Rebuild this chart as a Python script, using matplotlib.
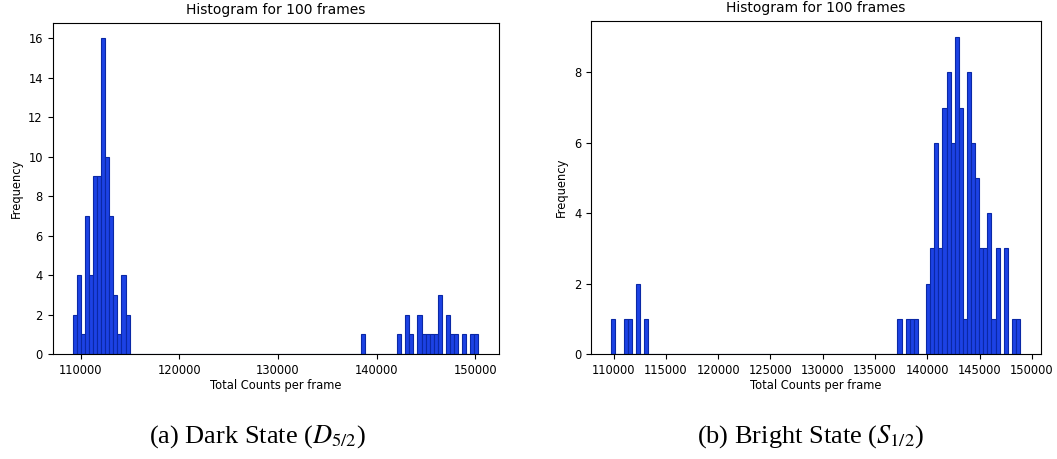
import numpy as np
import matplotlib.pyplot as plt

plt.rcParams["mathtext.fontset"] = "stix"

N_BINS = 100

# dark state (D5/2): histogram of total counts, 100 bins between min and max
dark_range = (109190, 150300)
dark_bin_idx = [0, 1, 2, 3, 4, 5, 6, 7, 8, 9, 10, 11, 12, 13,
                71, 80, 82, 83, 85, 86, 87, 88, 89, 90, 92, 93, 94, 96, 98, 99]
dark_counts = [2, 4, 1, 7, 4, 9, 9, 16, 10, 7, 3, 1, 4, 2,
               1, 1, 2, 1, 2, 1, 1, 1, 1, 3, 2, 1, 1, 1, 1, 1]

# bright state (S1/2)
bright_range = (109790, 148865)
bright_bin_idx = [0, 3, 4, 6, 8,
                  70, 72, 73, 74, 77, 78, 79, 80, 81, 82, 83, 84, 85, 86,
                  87, 88, 89, 90, 91, 92, 93, 94, 96, 98, 99]
bright_counts = [1, 1, 1, 2, 1,
                 1, 1, 1, 1, 2, 3, 6, 3, 7, 8, 6, 9, 7, 1,
                 8, 6, 5, 3, 3, 4, 1, 3, 3, 1, 1]

dark_ticks = [110000, 120000, 130000, 140000, 150000]
bright_ticks = [110000, 115000, 120000, 125000, 130000, 135000, 140000, 145000, 150000]

captions = [r"(a) Dark State ($D_{5/2}$)", r"(b) Bright State ($S_{1/2}$)"]

FACE = "#1c42e4"
EDGE = "#0a28a6"

fig = plt.figure(figsize=(10.57, 4.59), dpi=100)
ax1 = fig.add_axes([0.0497, 0.2288, 0.4220, 0.7218])
ax2 = fig.add_axes([0.5591, 0.2288, 0.4253, 0.7245])


def draw(ax, rng, idx, counts, ticks):
    edges = np.linspace(rng[0], rng[1], N_BINS + 1)
    centers = (edges[:-1] + edges[1:]) / 2
    ax.hist(centers[idx], bins=edges, weights=counts,
            color=FACE, edgecolor=EDGE, linewidth=0.8)
    ax.set_xticks(ticks)
    ax.set_title("Histogram for 100 frames", fontsize=10, pad=6.5)
    ax.set_xlabel("Total Counts per frame", fontsize=8.3, labelpad=2)
    ax.set_ylabel("Frequency", fontsize=8.3, labelpad=4)
    ax.tick_params(labelsize=8.3)


draw(ax1, dark_range, dark_bin_idx, dark_counts, dark_ticks)
draw(ax2, bright_range, bright_bin_idx, bright_counts, bright_ticks)
ax1.set_yticks(range(0, 17, 2))
ax2.set_yticks(range(0, 9, 2))

fig.text(257 / 1057, 0.049, captions[0], ha="center", va="center",
         fontsize=19, family="Liberation Serif")
fig.text(811 / 1057, 0.049, captions[1], ha="center", va="center",
         fontsize=19, family="Liberation Serif")

fig.savefig("out.png", dpi=100)
